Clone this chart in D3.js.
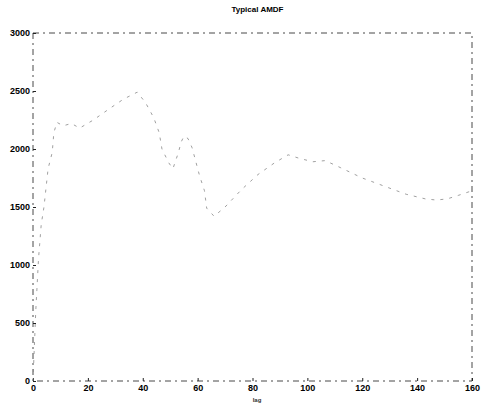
<!DOCTYPE html>
<meta charset="utf-8">
<style>
body { margin: 0; background: #fff; }
svg { font-family: "Liberation Sans", Arial, sans-serif; }
.tick text { font-size: 9px; font-weight: bold; fill: #000; }
.title { font-size: 8px; font-weight: bold; }
.xlabel { font-size: 6px; font-weight: bold; fill: #333; }
</style>
<body>
<script src="https://d3js.org/d3.v7.min.js"></script>
<script>
var w = 482, h = 406,
    mLeft = 33, mRight = 472, mTop = 33, mBottom = 381;

// AMDF values (lag, value)
var lags   = [0, 1, 2, 3, 4, 5.5, 7, 7.6, 8.7, 11, 14, 17, 22, 28, 33, 38, 41, 44, 46, 47, 49.5, 51, 53, 54, 55, 56.5, 58, 60.7, 62.5, 63.3, 66, 70, 76, 82, 88, 93, 97, 102, 106.5, 112, 120, 128, 136, 143, 147, 151, 155, 160];
var amdf   = [0, 600, 1050, 1350, 1500, 1830, 1970, 2140, 2230, 2200, 2220, 2180, 2250, 2350, 2430, 2490, 2400, 2270, 2140, 2000, 1880, 1830, 1970, 2060, 2110, 2090, 2010, 1770, 1640, 1490, 1420, 1500, 1650, 1780, 1880, 1950, 1920, 1890, 1900, 1840, 1750, 1680, 1610, 1570, 1560, 1570, 1600, 1640];
var xTicks = [0, 20, 40, 60, 80, 100, 120, 140, 160];
var yTicks = [0, 500, 1000, 1500, 2000, 2500, 3000];

var x = d3.scaleLinear().domain([0, 160]).range([mLeft, mRight]);
var y = d3.scaleLinear().domain([0, 3000]).range([mBottom, mTop]);

var svg = d3.select("body").append("svg")
    .attr("width", w)
    .attr("height", h);

/* title */
svg.append("text")
    .attr("class", "title")
    .attr("x", (mLeft + mRight) / 2 + 5)
    .attr("y", 12)
    .attr("text-anchor", "middle")
    .text("Typical AMDF");

/* box, broken like the scan */
svg.append("rect")
    .attr("x", mLeft).attr("y", mTop)
    .attr("width", mRight - mLeft).attr("height", mBottom - mTop)
    .attr("fill", "none")
    .attr("stroke", "#333")
    .attr("stroke-width", 0.9)
    .attr("stroke-dasharray", "6,4,2,4");

/* axes */
svg.append("g")
    .attr("transform", "translate(0," + mBottom + ")")
    .call(d3.axisBottom(x).tickValues(xTicks).tickFormat(d3.format("d")).tickSize(-3).tickPadding(4));
svg.append("g")
    .attr("transform", "translate(" + mLeft + ",0)")
    .call(d3.axisLeft(y).tickValues(yTicks).tickFormat(d3.format("d")).tickSize(-3).tickPadding(3));
svg.selectAll(".domain").remove();
svg.selectAll(".tick line").attr("stroke", "#222");

/* x label */
svg.append("text")
    .attr("class", "xlabel")
    .attr("x", 257)
    .attr("y", 402)
    .attr("text-anchor", "middle")
    .text("lag");

/* curve, faint like the scan */
var line = d3.line()
    .x(function(d, i) { return x(lags[i]); })
    .y(function(d) { return y(d); });

svg.append("path")
    .datum(amdf)
    .attr("fill", "none")
    .attr("stroke", "#888")
    .attr("stroke-width", 0.8)
    .attr("stroke-dasharray", "3,6")
    .attr("d", line);
</script>
</body>
